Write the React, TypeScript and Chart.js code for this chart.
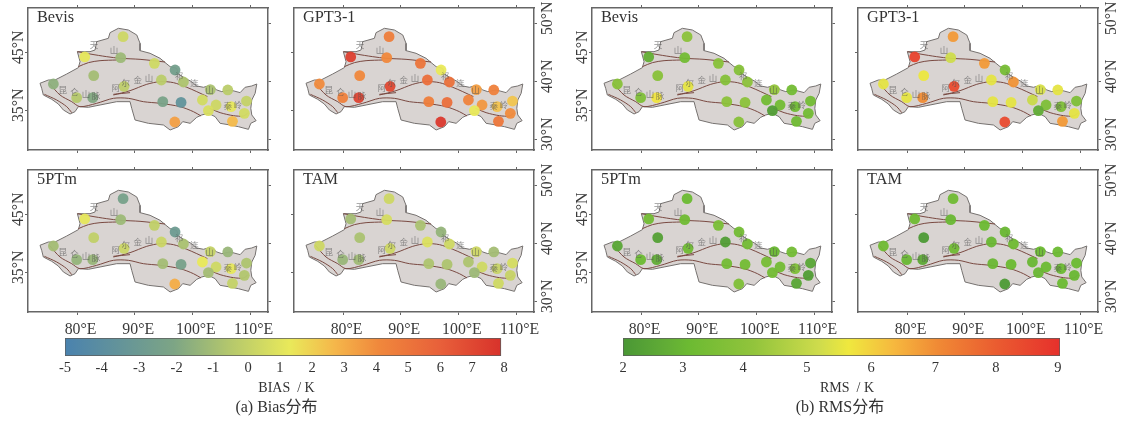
import React, { useEffect, useRef } from "react";
import { Chart, registerables } from "chart.js";

Chart.register(...registerables);

const serif = '"Liberation Serif", "Noto Sans CJK SC", serif';

// stations (degrees)
const stationLon = [87.98, 81.33, 87.57, 93.41, 82.89, 96.99, 75.9, 94.62, 98.44, 88.15, 79.94, 82.72, 103.1, 106.13, 101.73, 94.86, 98.03, 109.37, 104.1, 106.7, 102.77, 109.0, 96.94, 106.94];
const stationLat = [47.7, 44.2, 44.08, 43.1, 40.98, 41.95, 39.54, 40.23, 39.88, 39.14, 37.18, 37.18, 38.57, 38.51, 36.78, 36.49, 36.37, 36.6, 35.92, 35.63, 34.95, 34.48, 32.99, 33.1];

const bevisBias = [0.3, 1.2, -1.2, 0.4, -1, -2.6, -1.6, -0.3, -0.7, -0.2, -0.5, -1.9, -0.8, -0.3, 0.5, -2.3, -3.6, 0, 0.3, 1.2, 0.7, 0.5, 3.4, 2.6];
const gpt3Bias = [4.6, 7.3, 4.1, 5, 4.1, 1.3, 4, 5.3, 5.2, 7, 4.4, 7.2, 3.4, 4.4, 4.3, 4.6, 5.3, 2.3, 3.6, 2.4, 1.3, 4, 7.6, 4.9];
const ptmBias = [-2.4, 1.2, -1.2, -0.1, -0.1, -2.9, -1, 0.2, -0.8, 0.2, -1.4, -1.3, 0, -1.3, 1.3, -1, -2.4, -0.7, 0.4, 1.2, -1, -0.6, 3, 0];
const tamBias = [0.3, -1, 0.6, -0.8, -0.8, -1.4, 0.3, 0.8, 0.4, 0.3, -1.3, -1.1, 0.3, -1, -0.7, -0.7, -0.7, 0.6, 0.4, 0.1, -1.2, 0.1, -1.3, 0.4];

const bevisRms = [4, 2.8, 3.3, 3.9, 3.9, 3.8, 3.9, 3.8, 4, 5.5, 3.6, 5.7, 4.2, 3.3, 3.3, 4, 4, 3.3, 3.3, 3.2, 2.2, 3.3, 3.9, 3.2];
const gpt3Rms = [6.8, 8.6, 5.2, 6.8, 5.6, 3.4, 5.5, 5.5, 6.9, 8.4, 5.5, 7, 5.3, 5.5, 5.1, 5.5, 5.5, 3.6, 3.6, 3.6, 2.7, 5.5, 8.4, 6.8];
const ptmRms = [3.1, 3.3, 3.2, 3.5, 2.3, 3.3, 2.5, 2.2, 3.3, 3.2, 3.1, 2.7, 3, 3.3, 3.4, 3.3, 3.3, 2.5, 3.3, 3.6, 3.3, 2.2, 3.6, 2.5];
const tamRms = [3.2, 3.2, 3, 3.1, 2.1, 3, 3.2, 3, 3.2, 3.2, 3, 2.6, 3.1, 3.1, 3, 3, 3.1, 3.1, 3.1, 3.1, 3, 3, 2.1, 3.1];

// region outline and mountain ranges (lon, lat)
const regionOutline = [[73.58,39.66],[75.03,40.23],[76.18,40.23],[78.21,41.26],[80.23,42.36],[80.52,43.39],[80.06,45.11],[82.25,45.11],[83.12,45.4],[83.41,46.84],[85.43,47.41],[85.72,48.39],[87.17,49.14],[88.9,48.85],[90.35,47.99],[90.92,46.55],[90.92,45.29],[92.66,44.83],[94.39,43.97],[95.43,43.1],[96.13,42.53],[97.28,42.24],[97.57,41.26],[98.73,40.52],[99.88,39.94],[100.75,39.2],[101.91,38.97],[102.77,39.2],[103.64,38.97],[104.22,38.51],[105.09,38.22],[106.53,38.51],[108.27,38.05],[109.13,38.97],[110.29,39.2],[111.16,39.54],[110.87,37.93],[110.29,36.78],[110.12,35.34],[110.29,34.2],[111.04,33.22],[110.12,32.76],[109.71,31.72],[107.98,32.18],[106.53,32.47],[104.8,32.76],[103.93,33.91],[102.77,34.48],[101.62,34.2],[100.75,33.79],[99.6,32.76],[98.32,33.05],[97.57,32.18],[96.13,31.61],[94.97,32.47],[92.37,32.76],[90.06,33.33],[89.48,35.34],[89.19,36.49],[86.88,36.49],[83.99,35.92],[81.97,35.52],[80.23,35.63],[79.65,34.77],[78.79,34.37],[77.63,35.06],[76.76,36.09],[75.61,36.9],[74.16,37.64],[73.87,38.79],[73.58,39.66]];
const tianshanNorth = [[80.06,45.11],[82.25,44.71],[85.14,44.25],[87.46,43.97],[90.92,43.79],[95.26,43.33]];
const tianshanSouth = [[80.23,42.53],[81.97,43.22],[83.99,43.56],[86.88,43.68]];
const altunQilian = [[86.3,37.64],[89.19,38.39],[92.08,39.48],[94.39,39.94],[96.71,39.77],[99.02,38.97],[100.75,38.22],[102.6,37.36]];
const kunlunMain = [[75.2,39.66],[77.05,37.64],[79.08,36.49],[80.52,35.63],[83.41,36.21],[86.3,37.07],[88.9,37.07],[91.5,36.49],[94.39,36.21],[97.86,35.63],[100.17,34.77],[101.5,34.02]];
const kunlunWest = [[74.34,37.76],[76.47,36.78],[78.21,35.63],[79.08,34.6]];
const altunWest = [[86.3,37.76],[89.19,38.05]];
const qinling = [[102.95,35.34],[104.8,34.6],[107.11,34.08],[108.84,34.02],[109.54,34.48]];
const mountainRanges = [tianshanNorth, tianshanSouth, altunQilian, kunlunMain, kunlunWest, altunWest, qinling];

const mapLabelText = ["天", "山", "阿", "尔", "金", "山", "昆", "仑", "山", "脉", "祁", "连", "山", "秦", "岭"];
const mapLabelLon = [82.95, 86.42, 86.7, 88.44, 90.52, 92.49, 77.51, 79.54, 81.56, 83.29, 97.69, 100.35, 102.95, 106.13, 107.86];
const mapLabelLat = [46.26, 45.4, 38.97, 39.83, 40.23, 40.69, 38.62, 38.22, 37.93, 37.53, 40.92, 39.77, 38.51, 35.75, 35.92];

const lonTicks = [80, 90, 100, 110];
const latTicksLeft = [35, 45];
const latTicksRight = [30, 40, 50];

const biasTicks = [-5, -4, -3, -2, -1, 0, 1, 2, 3, 4, 5, 6, 7, 8];
const biasTickAt = [0, 0.084, 0.17, 0.256, 0.34, 0.42, 0.493, 0.567, 0.64, 0.714, 0.787, 0.861, 0.934, 1.007];
const biasStops: [number, string][] = [[0, "#4a82ae"], [0.25, "#7da585"], [0.38, "#b5c86c"], [0.516, "#e9e95a"], [0.62, "#f5b64a"], [0.72, "#f0883c"], [0.86, "#e8603a"], [1, "#d8322b"]];
const rmsTicks = [2, 3, 4, 5, 6, 7, 8, 9];
const rmsTickAt = [0, 0.137, 0.275, 0.421, 0.568, 0.715, 0.853, 0.995];
const rmsStops: [number, string][] = [[0, "#4a9735"], [0.1, "#62ad36"], [0.15, "#6cba32"], [0.3, "#92c43c"], [0.45, "#cfdc4c"], [0.516, "#efe83e"], [0.62, "#f6b83e"], [0.72, "#f08a35"], [0.86, "#ea5a30"], [1, "#e6302c"]];

const hex = (c: string) => [1, 3, 5].map((i) => parseInt(c.slice(i, i + 2), 16));
function colorAt(stops: [number, string][], f: number) {
  let i = 0;
  while (i < stops.length - 2 && f > stops[i + 1][0]) i++;
  const [a, ca] = stops[i];
  const [b, cb] = stops[i + 1];
  const t = Math.min(1, Math.max(0, (f - a) / (b - a)));
  const A = hex(ca);
  const B = hex(cb);
  const m = A.map((v, k) => Math.round(v + (B[k] - v) * t));
  return `rgba(${m[0]},${m[1]},${m[2]},0.95)`;
}
function fractionOf(v: number, ticks: number[], at: number[]) {
  let i = 0;
  while (i < ticks.length - 2 && v > ticks[i + 1]) i++;
  return at[i] + ((v - ticks[i]) / (ticks[i + 1] - ticks[i])) * (at[i + 1] - at[i]);
}

const LON_MIN = 71.5, LON_MAX = 113.1, LAT_MIN = 28.16, LAT_MAX = 52.64;
const M = { l: 28, r: 30, t: 6, b: 30 };
const PW = 240, PH = 142;
const tickFont = { family: serif, size: 15.8 };

type PanelProps = {
  title: string; values: number[]; ticks: number[]; at: number[]; stops: [number, string][];
  left: number; top: number; showLeft: boolean; showBottom: boolean;
};

function Panel({ title, values, ticks, at, stops, left, top, showLeft, showBottom }: PanelProps) {
  const ref = useRef<HTMLCanvasElement>(null);
  useEffect(() => {
    const size = (v: number) => (s: any) => {
      if (s.isHorizontal()) s.height = v;
      else s.width = v;
    };
    const fixTicks = (vals: number[]) => (s: any) => {
      s.ticks = vals.map((value) => ({ value }));
    };
    const common = {
      type: "linear",
      grid: { drawOnChartArea: false, drawTicks: true, tickLength: 3, color: "#666", tickWidth: 1 },
      border: { display: true, color: "#666", width: 1.5 },
    };
    const xAxis = (pos: string, show: boolean, m: number) => ({
      ...common, position: pos, min: LON_MIN, max: LON_MAX,
      afterBuildTicks: fixTicks(lonTicks), afterFit: size(m),
      ticks: { display: show, autoSkip: false, maxRotation: 0, minRotation: 0, padding: 5, labelOffset: 3.5, color: "#3a3a3a", font: tickFont, callback: (v: any) => `${v}°E` },
    });
    const yAxis = (pos: string, show: boolean, m: number, vals: number[], pad: number) => ({
      ...common, position: pos, min: LAT_MIN, max: LAT_MAX,
      afterBuildTicks: fixTicks(vals), afterFit: size(m),
      ticks: { display: show, autoSkip: false, minRotation: 90, maxRotation: 90, crossAlign: "center", padding: pad, labelOffset: -5, color: "#3a3a3a", font: tickFont, callback: (v: any) => `${v}°N` },
    });
    const pairs = (a: number[][]) => a.map(([x, y]) => ({ x, y }));
    const textPlugin = {
      id: "mapText",
      afterDatasetsDraw(chart: any) {
        const { ctx, chartArea, scales } = chart;
        ctx.save();
        ctx.font = `8.5px "Noto Sans CJK SC", sans-serif`;
        ctx.fillStyle = "rgba(80,80,80,0.62)";
        ctx.textAlign = "center";
        ctx.textBaseline = "middle";
        mapLabelText.forEach((t, i) => {
          ctx.fillText(t, scales.x.getPixelForValue(mapLabelLon[i]), scales.y.getPixelForValue(mapLabelLat[i]));
        });
        ctx.font = `16.3px ${serif}`;
        ctx.fillStyle = "#333";
        ctx.textAlign = "left";
        ctx.fillText(title, chartArea.left + 9, chartArea.top + 10);
        ctx.restore();
      },
    };
    const chart = new Chart(ref.current!, {
      type: "scatter",
      data: {
        datasets: [
          {
            label: title,
            data: stationLon.map((x, i) => ({ x, y: stationLat[i] })),
            pointRadius: 5.4,
            pointBorderWidth: 0,
            pointBackgroundColor: values.map((v) => colorAt(stops, fractionOf(v, ticks, at))),
            showLine: false,
          },
          ...mountainRanges.map((r, i) => ({
            label: `range ${i}`, data: pairs(r), showLine: true, pointRadius: 0,
            borderColor: "#7a4a42", borderWidth: 1, tension: 0.3, fill: false,
          })),
          {
            label: "region", data: pairs(regionOutline), showLine: true, pointRadius: 0,
            borderColor: "#75716f", borderWidth: 1, backgroundColor: "#d9d4d2", fill: "shape",
          },
        ],
      } as any,
      options: {
        animation: false, responsive: false, maintainAspectRatio: false,
        layout: { padding: 0 },
        plugins: { legend: { display: false }, tooltip: { enabled: false } },
        scales: {
          x: xAxis("bottom", showBottom, M.b),
          x2: xAxis("top", false, M.t),
          y: yAxis("left", showLeft, M.l, latTicksLeft, -10.5),
          y2: yAxis("right", !showLeft, M.r, latTicksRight, -6),
        },
      } as any,
      plugins: [textPlugin],
    } as any);
    return () => chart.destroy();
  }, []);
  return (
    <canvas
      ref={ref}
      width={PW + M.l + M.r}
      height={PH + M.t + M.b}
      style={{ position: "absolute", left: left - M.l, top: top - M.t, width: PW + M.l + M.r, height: PH + M.t + M.b }}
    />
  );
}

type BarProps = { ticks: number[]; at: number[]; stops: [number, string][]; left: number; width: number; };

function ColorBar({ ticks, at, stops, left, width }: BarProps) {
  const ref = useRef<HTMLCanvasElement>(null);
  const maxAt = Math.max(1, at[at.length - 1]);
  useEffect(() => {
    const chart = new Chart(ref.current!, {
      type: "bar",
      data: {
        labels: ["scale"],
        datasets: [{
          data: [[0, 1]],
          borderColor: "#5c5c5c",
          borderWidth: 1,
          borderSkipped: false,
          barPercentage: 1,
          categoryPercentage: 1,
          backgroundColor: (c: any) => {
            const { chart: ch } = c;
            if (!ch.chartArea) return "#ccc";
            const x = ch.scales.x;
            const g = ch.ctx.createLinearGradient(x.getPixelForValue(0), 0, x.getPixelForValue(1), 0);
            stops.forEach(([f, col]) => g.addColorStop(f, col));
            return g;
          },
        }],
      } as any,
      options: {
        indexAxis: "y", animation: false, responsive: false, maintainAspectRatio: false,
        layout: { padding: { left: 20, right: 20, top: 2, bottom: 0 } },
        plugins: { legend: { display: false }, tooltip: { enabled: false } },
        scales: {
          y: { display: false },
          x: {
            type: "linear", min: 0, max: maxAt,
            grid: { display: false, drawTicks: false },
            border: { display: false },
            afterBuildTicks: (s: any) => { s.ticks = at.map((value) => ({ value })); },
            afterFit: (s: any) => { s.height = 22; },
            ticks: {
              autoSkip: false, maxRotation: 0, minRotation: 0, padding: 3, color: "#333",
              font: { family: serif, size: 14.5 },
              callback: (_v: any, i: number) => String(ticks[i]),
            },
          },
        },
      } as any,
    } as any);
    return () => chart.destroy();
  }, []);
  return (
    <canvas
      ref={ref}
      width={width + 40}
      height={42}
      style={{ position: "absolute", left: left - 20, top: 336, width: width + 40, height: 42 }}
    />
  );
}

const captionStyle = (cx: number, cy: number, size: number): React.CSSProperties => ({
  position: "absolute", left: cx - 150, top: cy - 12, width: 300, height: 24, lineHeight: "24px",
  textAlign: "center", fontFamily: serif, fontSize: size, color: "#333", whiteSpace: "pre",
});

export default function App() {
  return (
    <div style={{ position: "absolute", left: 0, top: 0, width: 1123, height: 421, overflow: "hidden", background: "#fff", filter: "blur(0.45px)" }}>
      <Panel title="Bevis" values={bevisBias} ticks={biasTicks} at={biasTickAt} stops={biasStops} left={28} top={8} showLeft showBottom={false} />
      <Panel title="GPT3-1" values={gpt3Bias} ticks={biasTicks} at={biasTickAt} stops={biasStops} left={294} top={8} showLeft={false} showBottom={false} />
      <Panel title="5PTm" values={ptmBias} ticks={biasTicks} at={biasTickAt} stops={biasStops} left={28} top={170} showLeft showBottom />
      <Panel title="TAM" values={tamBias} ticks={biasTicks} at={biasTickAt} stops={biasStops} left={294} top={170} showLeft={false} showBottom />
      <Panel title="Bevis" values={bevisRms} ticks={rmsTicks} at={rmsTickAt} stops={rmsStops} left={592} top={8} showLeft showBottom={false} />
      <Panel title="GPT3-1" values={gpt3Rms} ticks={rmsTicks} at={rmsTickAt} stops={rmsStops} left={858} top={8} showLeft={false} showBottom={false} />
      <Panel title="5PTm" values={ptmRms} ticks={rmsTicks} at={rmsTickAt} stops={rmsStops} left={592} top={170} showLeft showBottom />
      <Panel title="TAM" values={tamRms} ticks={rmsTicks} at={rmsTickAt} stops={rmsStops} left={858} top={170} showLeft={false} showBottom />
      <ColorBar ticks={biasTicks} at={biasTickAt} stops={biasStops} left={65} width={439} />
      <ColorBar ticks={rmsTicks} at={rmsTickAt} stops={rmsStops} left={623} width={437} />
      <div style={captionStyle(286.5, 388, 14)}>{"BIAS  / K"}</div>
      <div style={captionStyle(276.5, 407, 16)}>(a) Bias分布</div>
      <div style={captionStyle(847, 388, 14)}>{"RMS  / K"}</div>
      <div style={captionStyle(840, 407, 16)}>(b) RMS分布</div>
    </div>
  );
}
